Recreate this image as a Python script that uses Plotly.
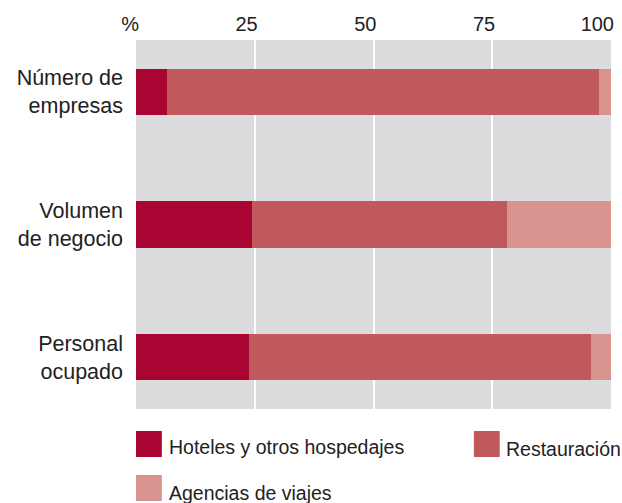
import plotly.graph_objects as go

categories = ["Número de<br>empresas", "Volumen<br>de negocio", "Personal<br>ocupado"]
hoteles = [6.5, 24.4, 23.8]
restauracion = [91.0, 53.7, 72.0]
agencias = [2.5, 21.9, 4.2]
series_names = ["Hoteles y otros hospedajes", "Restauración", "Agencias de viajes"]
colors = ["#A80532", "#C0595C", "#D89590"]
tick_vals = [0, 25, 50, 75, 100]
tick_text = ["%", "25", "50", "75", "100"]

FONT = "Liberation Sans"
fig = go.Figure()
for name, vals, col in zip(series_names, [hoteles, restauracion, agencias], colors):
    fig.add_trace(go.Bar(
        y=categories, x=vals, name=name, orientation="h",
        marker=dict(color=col, line=dict(width=0)),
        width=0.347, showlegend=False,
    ))

W, H = 622, 503
L, R, T, B = 136, 8, 40, 94
pw, ph = W - L - R, H - T - B

def px_x(x):
    return (x - L) / pw

def px_y(y):
    return (H - B - y) / ph

shapes = []
annotations = []
legend_items = [
    (136, 431, 167, 447, 0),
    (476, 431, 506, 449, 1),
    (136, 475, 167, 493, 2),
]
for sx, sy, tx, ty, i in legend_items:
    shapes.append(dict(type="rect", xref="paper", yref="paper",
                       x0=px_x(sx), x1=px_x(sx + 26), y0=px_y(sy), y1=px_y(sy + 26),
                       fillcolor=colors[i], line=dict(width=0)))
    annotations.append(dict(xref="paper", yref="paper", x=px_x(tx), y=px_y(ty),
                            text=series_names[i], showarrow=False,
                            xanchor="left", yanchor="middle",
                            font=dict(family=FONT, size=19.5, color="#222222")))

fig.update_layout(
    width=W, height=H,
    margin=dict(l=L, r=R, t=T, b=B, pad=0),
    barmode="stack",
    plot_bgcolor="#DCDCDE",
    paper_bgcolor="white",
    bargap=0,
    xaxis=dict(side="top", range=[0, 100], tickvals=tick_vals, ticktext=tick_text,
               showgrid=True, gridcolor="white", gridwidth=2, zeroline=False,
               ticks="", ticklabelposition="outside left", ticklabelshift=3,
               ticklabelstandoff=4,
               tickfont=dict(family=FONT, size=20, color="#222222"),
               fixedrange=True),
    yaxis=dict(range=[2.39, -0.39], showgrid=False, zeroline=False, ticks="",
               ticklabelstandoff=12,
               tickfont=dict(family=FONT, size=21.5, color="#222222")),
    shapes=shapes,
    annotations=annotations,
)

fig.write_html("out.html", config={"displayModeBar": False},
               post_script="document.body.style.margin='0px';document.body.style.overflow='hidden';")
